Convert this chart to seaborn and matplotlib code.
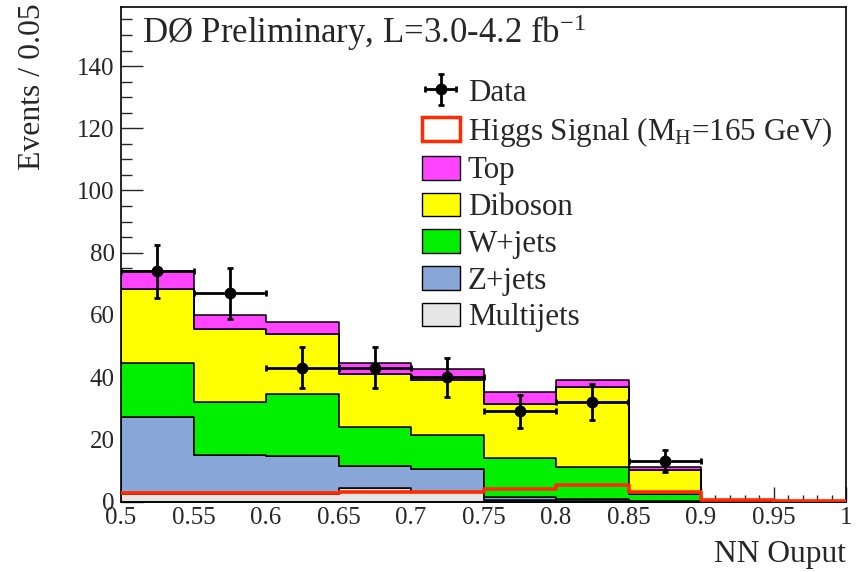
import numpy as np
import pandas as pd
import matplotlib
matplotlib.use("Agg")
import matplotlib.pyplot as plt
from matplotlib.patches import Patch
from matplotlib.ticker import MultipleLocator, FixedLocator, FuncFormatter
import seaborn as sns

# NN output binning (10 bins of width 0.05)
bin_edges = [0.5, 0.55, 0.6, 0.65, 0.7, 0.75, 0.8, 0.85, 0.9, 0.95, 1.0]
bin_centers = [0.525, 0.575, 0.625, 0.675, 0.725, 0.775, 0.825, 0.875, 0.925, 0.975]

# Background expectations per bin (events / 0.05)
multijets = [2.5, 2.5, 2.5, 4.5, 3.0, 0.5, 0.3, 0.1, 0.0, 0.0]
zjets = [24.7, 12.5, 12.2, 6.8, 7.5, 1.0, 0.5, 0.2, 0.0, 0.0]
wjets = [17.4, 17.1, 19.8, 12.5, 11.0, 12.5, 10.3, 2.2, 0.1, 0.0]
diboson = [23.8, 23.5, 19.5, 17.2, 17.7, 17.3, 25.6, 7.5, 0.1, 0.0]
top = [5.8, 4.5, 3.8, 3.4, 3.3, 3.8, 2.3, 1.1, 0.0, 0.0]

# Signal expectation (M_H = 165 GeV)
higgs = [2.7, 2.8, 2.8, 3.0, 3.0, 3.9, 5.4, 2.9, 0.4, 0.3]

# Observed data
data_centers = [0.525, 0.575, 0.625, 0.675, 0.725, 0.775, 0.825, 0.875]
data_counts = [74, 67, 43, 43, 40, 29, 32, 13]
data_err = [8.6, 8.2, 6.6, 6.6, 6.3, 5.4, 5.7, 3.6]

process_names = ["Top", "Diboson", "W+jets", "Z+jets", "Multijets"]
process_values = [top, diboson, wjets, zjets, multijets]
process_colors = {
    "Top": "#FF44FF",
    "Diboson": "#FFFF00",
    "W+jets": "#00F000",
    "Z+jets": "#88A6D8",
    "Multijets": "#E6E6E6",
}
higgs_color = "#FF2A00"

sns.set_style("ticks")
plt.rcParams["font.family"] = ["Liberation Serif", "DejaVu Serif"]
plt.rcParams["mathtext.fontset"] = "custom"
plt.rcParams["mathtext.rm"] = "Liberation Serif"
plt.rcParams["mathtext.it"] = "Liberation Serif:italic"

frames = []
for name, vals in zip(process_names, process_values):
    frames.append(pd.DataFrame({"nn": bin_centers, "events": vals, "process": name}))
bkg = pd.concat(frames, ignore_index=True)

W, H = 859, 572
fig = plt.figure(figsize=(W / 100, H / 100), dpi=100)
ax = fig.add_axes([121 / W, (H - 501.5) / H, (846 - 121) / W, (501.5 - 7) / H])

# Stacked backgrounds (last hue level at the bottom of the stack)
sns.histplot(
    data=bkg, x="nn", weights="events", hue="process", hue_order=process_names,
    palette=process_colors, multiple="stack", bins=bin_edges, element="step",
    fill=True, alpha=1, edgecolor="black", linewidth=1.1, legend=False, ax=ax,
)

# Signal outline
sns.histplot(
    x=bin_centers, weights=higgs, bins=bin_edges, element="step", fill=False,
    color=higgs_color, linewidth=2.6, ax=ax, zorder=3,
)

# Data points
half_width = np.diff(bin_edges)[: len(data_centers)] / 2
eb = ax.errorbar(
    data_centers, data_counts, xerr=half_width, yerr=data_err, fmt="o",
    color="black", ms=7.5, elinewidth=2, capsize=2.2, capthick=2, zorder=5,
)

ax.set_xlim(0.5, 1.0)
ax.set_ylim(0, 159)
ax.set_xlabel("")
ax.set_ylabel("")

ax.xaxis.set_major_locator(FixedLocator(bin_edges))
ax.xaxis.set_major_formatter(FuncFormatter(lambda v, p: f"{v:g}"))
ax.xaxis.set_minor_locator(MultipleLocator(0.01))
ax.yaxis.set_major_locator(MultipleLocator(20))
ax.yaxis.set_minor_locator(MultipleLocator(5))

ax.tick_params(axis="x", which="major", direction="in", length=10.7, width=1,
               labelsize=18, pad=4, top=False)
ax.tick_params(axis="x", which="minor", direction="in", length=5.3, width=1, top=False)
ax.tick_params(axis="y", which="major", direction="in", length=15.7, width=1,
               labelsize=18, pad=4.5, right=False)
ax.tick_params(axis="y", which="minor", direction="in", length=7.8, width=1, right=False)
for s in ax.spines.values():
    s.set_visible(True)
    s.set_linewidth(1.2)
    s.set_color("black")

fig.text(142 / W, 1 - 43 / H, r"DØ Preliminary, L=3.0-4.2 fb$^{-1}$",
         fontsize=25, ha="left", va="baseline")
fig.text(846 / W, 1 - 562 / H, "NN Ouput", fontsize=22.7, ha="right", va="baseline")
fig.text(32.5 / W, 1 - 3 / H, "Events / 0.05", fontsize=22.9, rotation=90,
         ha="center", va="top")

handles = [
    eb,
    Patch(facecolor="white", edgecolor=higgs_color, linewidth=2.5),
] + [Patch(facecolor=process_colors[n], edgecolor="black", linewidth=1) for n in process_names]
labels = ["Data", r"Higgs Signal (M$_{\rm H}$=165 GeV)"] + process_names

ax.legend(
    handles, labels, loc="upper left", bbox_to_anchor=(421.7 / W, 1 - 78 / H),
    bbox_transform=fig.transFigure, frameon=False, fontsize=22.3, borderpad=0,
    borderaxespad=0, handlelength=1.23, handleheight=0.8, handletextpad=0.26,
    labelspacing=0.23,
)

fig.savefig("out.png", dpi=100)
